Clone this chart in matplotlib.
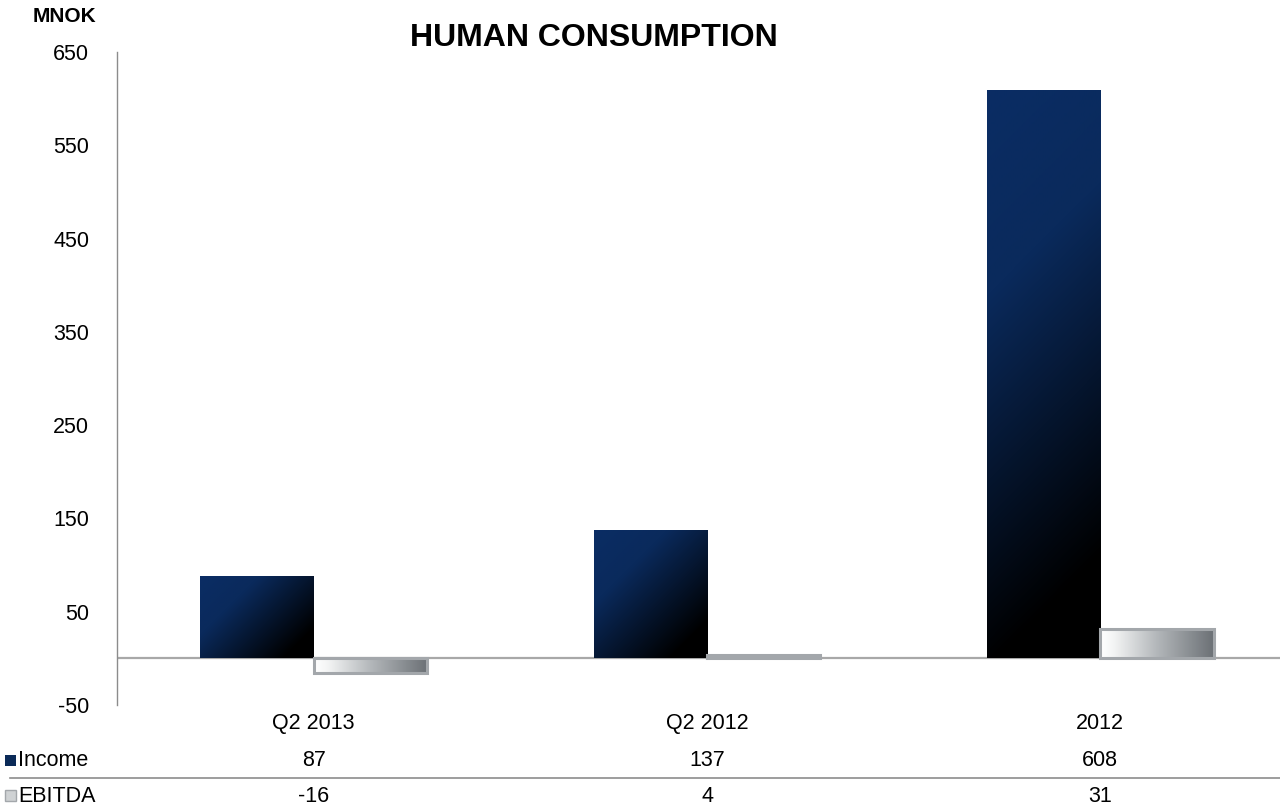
import matplotlib
matplotlib.use("Agg")
import matplotlib.pyplot as plt
import numpy as np
from matplotlib.colors import LinearSegmentedColormap
from matplotlib.patches import Rectangle
from matplotlib.transforms import blended_transform_factory

CATEGORIES = ["Q2 2013", "Q2 2012", "2012"]
INCOME = [87, 137, 608]
EBITDA = [-16, 4, 31]
SERIES_NAMES = ["Income", "EBITDA"]
YTICKS = [-50, 50, 150, 250, 350, 450, 550, 650]

BAR_W = 0.288
AXIS_GREY = "#8c8c8c"
ZERO_GREY = "#a8a8a8"
EDGE_GREY = "#a3a7ab"

INCOME_CMAP = LinearSegmentedColormap.from_list(
    "income", [(0.0, "#0a2d64"), (0.3, "#0a2a5c"), (0.85, "#000000"), (1.0, "#000000")]
)
EBITDA_CMAP = LinearSegmentedColormap.from_list(
    "ebitda", [(0.0, "#ffffff"), (0.12, "#f3f4f4"), (0.5, "#b3b7ba"), (1.0, "#6c7176")]
)

plt.rcParams["font.family"] = ["Liberation Sans", "DejaVu Sans"]
plt.rcParams["axes.unicode_minus"] = False


def fill_gradient(ax, patch, cmap, diagonal):
    bb = patch.get_bbox()
    x0, x1 = sorted((bb.x0, bb.x1))
    y0, y1 = sorted((bb.y0, bb.y1))
    (px0, py0), (px1, py1) = ax.transData.transform([(x0, y0), (x1, y1)])
    wp, hp = abs(px1 - px0), abs(py1 - py0)
    nx, ny = max(int(wp), 2), max(int(hp), 2)
    u = np.linspace(0, 1, nx)[None, :]
    v = np.linspace(0, 1, ny)[:, None]
    if diagonal:
        t = (u * wp + v * hp) / (wp + hp)
    else:
        t = np.repeat(u, ny, axis=0)
    ax.imshow(t, cmap=cmap, vmin=0, vmax=1, extent=[x0, x1, y0, y1],
              origin="upper", aspect="auto", interpolation="bilinear", zorder=2)


fig = plt.figure(figsize=(12.8, 8.08), dpi=100)
# the plot area runs a little past the right edge of the picture
ax = fig.add_axes([117 / 1280, 1 - 705 / 808, 1180 / 1280, 653 / 808])

x = np.arange(len(CATEGORIES))
ax.set_xlim(-0.5, len(CATEGORIES) - 0.5)
ax.set_ylim(-50, 650)

inc_bars = ax.bar(x - BAR_W, INCOME, width=BAR_W, align="edge",
                  facecolor="none", edgecolor="none", zorder=3)
ebi_bars = ax.bar(x, EBITDA, width=BAR_W, align="edge",
                  facecolor="none", edgecolor=EDGE_GREY, linewidth=2.2, zorder=3)

for p in inc_bars:
    fill_gradient(ax, p, INCOME_CMAP, diagonal=True)
for p in ebi_bars:
    fill_gradient(ax, p, EBITDA_CMAP, diagonal=False)

ax.axhline(0, color=ZERO_GREY, linewidth=1.6, zorder=1)

ax.set_yticks(YTICKS)
ax.tick_params(axis="y", length=0, labelsize=15.5, pad=20)
ax.set_xticks(x)
ax.set_xticklabels(CATEGORIES)
ax.tick_params(axis="x", length=0, labelsize=15.5, pad=6)

for s in ("top", "right", "bottom"):
    ax.spines[s].set_visible(False)
ax.spines["left"].set_color(AXIS_GREY)
ax.spines["left"].set_linewidth(1.0)

fig.text(0.464, 1 - 38 / 808, "HUMAN CONSUMPTION", ha="center", va="center",
         fontsize=23, fontweight="bold")
fig.text(33 / 1280, 1 - 17 / 808, "MNOK", ha="left", va="center",
         fontsize=15, fontweight="bold")

# data table under the chart
tr = blended_transform_factory(ax.transData, fig.transFigure)
row_y = [1 - 761 / 808, 1 - 796 / 808]
for vals, yy in zip([INCOME, EBITDA], row_y):
    for xi, val in zip(x, vals):
        fig.text(xi, yy, f"{val}", transform=tr, ha="center", va="center", fontsize=15.5)

for name, yy in zip(SERIES_NAMES, row_y):
    fig.text(18 / 1280, yy, name, ha="left", va="center", fontsize=15.5)

fig.add_artist(Rectangle((5 / 1280, 1 - 766 / 808), 11 / 1280, 11 / 808,
                         transform=fig.transFigure, facecolor="#0b2a58", edgecolor="none"))
fig.add_artist(Rectangle((5 / 1280, 1 - 801 / 808), 11 / 1280, 11 / 808,
                         transform=fig.transFigure, facecolor="#cfd2d4", edgecolor=EDGE_GREY,
                         linewidth=1.0))

fig.add_artist(plt.Line2D([10 / 1280, 1.0], [1 - 778 / 808, 1 - 778 / 808],
                          transform=fig.transFigure, color=AXIS_GREY, linewidth=1.2))

fig.savefig("out.png", dpi=100)
